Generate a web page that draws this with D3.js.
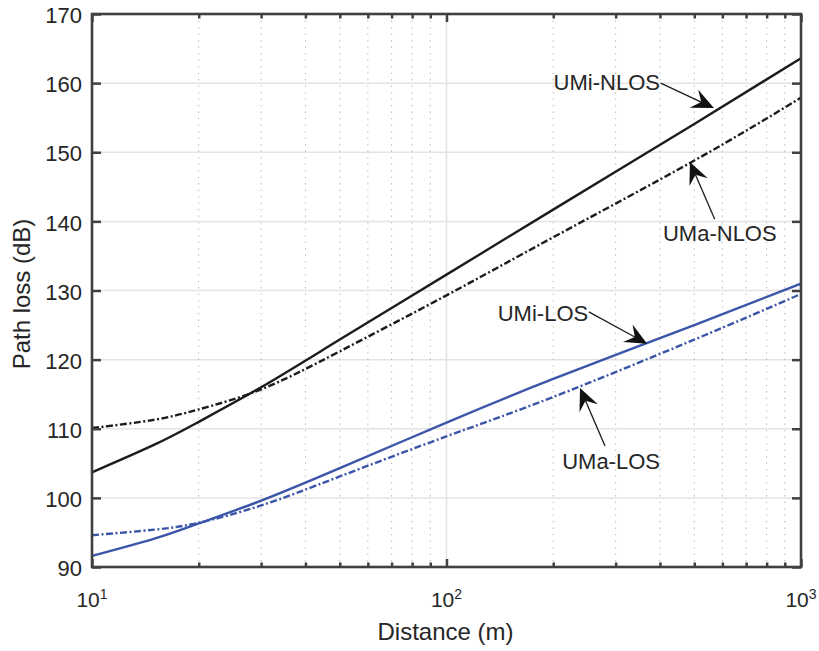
<!DOCTYPE html>
<html>
<head>
<meta charset="utf-8">
<script src="https://cdn.jsdelivr.net/npm/d3@7/dist/d3.min.js"></script>
<style>
    body { margin: 0; background: #fff; }
    svg { font-family: "Liberation Sans", Arial, sans-serif; }
</style>
</head>
<body>
<svg id="chart" width="819" height="651"></svg>
<script>
const distances = [10, 15, 20, 30, 50, 100, 200, 500, 1000];

// Path loss (dB) per scenario
const umiNlos = [103.7, 107.7, 111.0, 116.0, 122.9, 132.3, 141.7, 154.1, 163.6];
const umaNlos = [110.1, 111.3, 112.8, 115.7, 121.2, 129.3, 137.7, 148.8, 157.9];
const umiLos  = [91.6, 94.1, 96.3, 99.6, 104.3, 110.9, 117.2, 125.0, 131.0];
const umaLos  = [94.6, 95.4, 96.4, 98.9, 103.1, 108.9, 114.6, 122.9, 129.5];

const yTicks = [90, 100, 110, 120, 130, 140, 150, 160, 170];
const xMajor = [10, 100, 1000];
const xMinor = [20, 30, 40, 50, 60, 70, 80, 90, 200, 300, 400, 500, 600, 700, 800, 900];
const xTickExp = ['1', '2', '3'];

// Label / arrow: text position, arrow tail and arrow tip, in data units
const notes = [
    { label: 'UMi-NLOS', anchor: 'end',   tx: 400, ty: 159.0, fx: 402, fy: 160.0, ax: 568, ay: 156.4 },
    { label: 'UMa-NLOS', anchor: 'start', tx: 408, ty: 137.2, fx: 571, fy: 140.3, ax: 486, ay: 148.6 },
    { label: 'UMi-LOS',  anchor: 'end',   tx: 251, ty: 125.6, fx: 252, fy: 126.9, ax: 368, ay: 122.3 },
    { label: 'UMa-LOS',  anchor: 'start', tx: 212, ty: 104.2, fx: 280, fy: 107.5, ax: 238, ay: 115.9 }
];

const svg = d3.select('#chart');
const plotLeft = 92, plotRight = 801, plotTop = 14, plotBottom = 567;
const textColor = '#262626';
const axisColor = '#404040';

const x = d3.scaleLog().domain([10, 1000]).range([plotLeft, plotRight]);
const y = d3.scaleLinear().domain([90, 170]).range([plotBottom, plotTop]);

// Grid
const grid = svg.append('g');
grid.selectAll('.hgrid')
    .data(yTicks.slice(1, -1))
    .enter().append('line')
    .attr('x1', plotLeft).attr('x2', plotRight)
    .attr('y1', d => y(d)).attr('y2', d => y(d))
    .attr('stroke', '#e3e3e3').attr('stroke-width', 1.5);
grid.selectAll('.vminor')
    .data(xMinor)
    .enter().append('line')
    .attr('x1', d => x(d)).attr('x2', d => x(d))
    .attr('y1', plotTop).attr('y2', plotBottom)
    .attr('stroke', '#bdbdbd').attr('stroke-width', 1)
    .attr('stroke-dasharray', '1.5,5');
grid.append('line')
    .attr('x1', x(100)).attr('x2', x(100))
    .attr('y1', plotTop).attr('y2', plotBottom)
    .attr('stroke', '#e3e3e3').attr('stroke-width', 1.5);

// Curves
const series = [
    { values: umiNlos, color: '#1c1c1c', dash: null },
    { values: umaNlos, color: '#1c1c1c', dash: '7,2.5,2,2.5' },
    { values: umiLos,  color: '#3b55a8', dash: null },
    { values: umaLos,  color: '#3b55a8', dash: '7,2.5,2,2.5' }
];
const line = d3.line()
    .x(d => x(d[0]))
    .y(d => y(d[1]))
    .curve(d3.curveNatural);

svg.selectAll('.curve')
    .data(series)
    .enter().append('path')
    .attr('class', 'curve')
    .attr('d', s => line(distances.map((d, i) => [d, s.values[i]])))
    .attr('fill', 'none')
    .attr('stroke', s => s.color)
    .attr('stroke-width', 2.4)
    .attr('stroke-dasharray', s => s.dash);

// Axes with inward ticks
function styleAxis(g) {
    g.select('.domain').remove();
    g.selectAll('.tick line').attr('stroke', axisColor).attr('stroke-width', 2.5);
    g.selectAll('.tick text').remove();
}
svg.append('g').attr('transform', `translate(0,${plotBottom})`)
    .call(d3.axisBottom(x).tickValues(xMajor).tickSize(-8).tickFormat('')).call(styleAxis);
svg.append('g').attr('transform', `translate(0,${plotBottom})`)
    .call(d3.axisBottom(x).tickValues(xMinor).tickSize(-4.5).tickFormat('')).call(styleAxis);
svg.append('g').attr('transform', `translate(0,${plotTop})`)
    .call(d3.axisTop(x).tickValues(xMajor).tickSize(-8).tickFormat('')).call(styleAxis);
svg.append('g').attr('transform', `translate(0,${plotTop})`)
    .call(d3.axisTop(x).tickValues(xMinor).tickSize(-4.5).tickFormat('')).call(styleAxis);
svg.append('g').attr('transform', `translate(${plotLeft},0)`)
    .call(d3.axisLeft(y).tickValues(yTicks).tickSize(-9).tickFormat('')).call(styleAxis);
svg.append('g').attr('transform', `translate(${plotRight},0)`)
    .call(d3.axisRight(y).tickValues(yTicks).tickSize(-9).tickFormat('')).call(styleAxis);

// Box
svg.append('rect')
    .attr('x', plotLeft).attr('y', plotTop)
    .attr('width', plotRight - plotLeft).attr('height', plotBottom - plotTop)
    .attr('fill', 'none')
    .attr('stroke', axisColor)
    .attr('stroke-width', 2.6);

// Y tick labels
svg.selectAll('.ylab')
    .data(yTicks)
    .enter().append('text')
    .attr('x', plotLeft - 10)
    .attr('y', d => y(d))
    .attr('dy', '0.42em')
    .attr('text-anchor', 'end')
    .attr('font-size', 22)
    .attr('fill', textColor)
    .text(d => d);

// X tick labels (10^n)
const xl = svg.selectAll('.xlab')
    .data(xMajor)
    .enter().append('text')
    .attr('x', d => x(d))
    .attr('y', 606.5)
    .attr('text-anchor', 'middle')
    .attr('font-size', 21)
    .attr('fill', textColor);
xl.append('tspan').text('10');
xl.append('tspan')
    .attr('dy', -8)
    .attr('font-size', 14)
    .text((d, i) => xTickExp[i]);

// Axis titles
svg.append('text')
    .attr('x', (plotLeft + plotRight) / 2 - 1)
    .attr('y', 640)
    .attr('text-anchor', 'middle')
    .attr('font-size', 24)
    .attr('fill', textColor)
    .text('Distance (m)');

svg.append('text')
    .attr('transform', 'translate(30,294) rotate(-90)')
    .attr('text-anchor', 'middle')
    .attr('font-size', 24)
    .attr('fill', textColor)
    .text('Path loss (dB)');

// Annotations
const ann = svg.append('g');
notes.forEach(n => {
    const x0 = x(n.fx), y0 = y(n.fy), x1 = x(n.ax), y1 = y(n.ay);
    const ang = Math.atan2(y1 - y0, x1 - x0) * 180 / Math.PI;
    const len = Math.hypot(x1 - x0, y1 - y0);

    ann.append('line')
        .attr('x1', x0).attr('y1', y0)
        .attr('x2', x0 + (x1 - x0) * (len - 14) / len)
        .attr('y2', y0 + (y1 - y0) * (len - 14) / len)
        .attr('stroke', '#1c1c1c')
        .attr('stroke-width', 1.3);

    ann.append('path')
        .attr('d', 'M0,0 L-22,-10 L-14,0 L-22,10 Z')
        .attr('transform', `translate(${x1},${y1}) rotate(${ang})`)
        .attr('fill', '#111');

    ann.append('text')
        .attr('x', x(n.tx))
        .attr('y', y(n.ty))
        .attr('text-anchor', n.anchor)
        .attr('font-size', 22)
        .attr('fill', textColor)
        .text(n.label);
});
</script>
</body>
</html>
